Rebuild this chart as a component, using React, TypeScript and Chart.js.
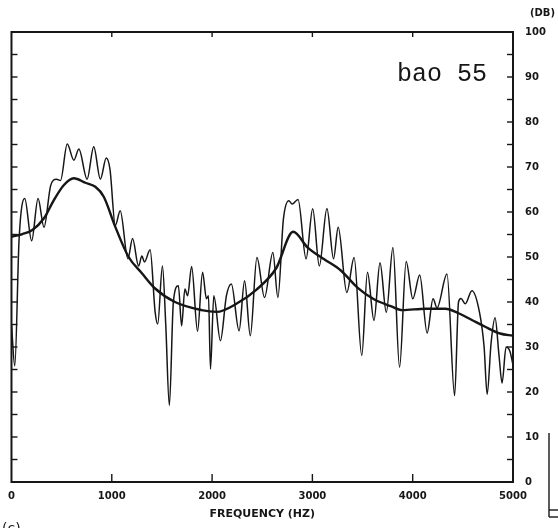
import React, { useEffect, useRef } from "react";
import { Chart, registerables } from "chart.js";

Chart.register(...registerables);

// Detailed spectrum (Hz, dB)
const freqDetail = [
  0, 33, 76, 132, 201, 265, 324, 390, 449, 489, 556, 622, 672, 754, 820, 886, 945, 982,
  1035, 1084, 1161, 1207, 1267, 1300, 1326, 1382, 1432, 1458, 1505, 1538, 1574, 1614, 1664,
  1696, 1729, 1756, 1796, 1855, 1905, 1944, 1964, 1984, 2017, 2083, 2143, 2192, 2269, 2324,
  2381, 2447, 2523, 2606, 2656, 2711, 2765, 2798, 2857, 2937, 3003, 3069, 3145, 3211, 3257,
  3343, 3416, 3492, 3549, 3614, 3674, 3737, 3803, 3869, 3935, 4001, 4070, 4144, 4203, 4243,
  4342, 4418, 4457, 4481, 4524, 4590, 4666, 4712, 4742, 4782, 4821, 4861, 4891, 4931, 4970, 5000,
];
const dbDetail = [
  35, 25.8, 54, 63, 53.6, 63, 56.6, 65.8, 67.3, 67, 75.1, 71.5, 74, 67.3, 74.5, 67.3, 72, 69.5,
  57, 60.3, 49.6, 54.1, 48, 50.2, 48.9, 51.6, 37.8, 35.1, 48, 35, 17, 40, 43.6,
  34.7, 42.9, 41.4, 47.9, 33.5, 46.6, 40.7, 41.4, 25.1, 41.4, 31.4, 41.4, 44, 33.6, 44.7,
  32.5, 49.9, 41, 51, 41, 58.4, 62.5, 61.8, 62.8, 49.6, 60.7, 48, 60.8, 49.6, 56.6,
  42.1, 49.9, 28.1, 46.6, 35.9, 48.7, 37.7, 52.1, 25.5, 49, 40.7, 46, 33.1, 40.7, 38.7,
  46.2, 19.2, 40, 40.8, 39.6, 42.5, 37.7, 30, 19.5, 31, 36.5, 28, 22, 30, 29, 26,
];

// Smoothed envelope (Hz, dB)
const freqEnv = [
  0, 109, 208, 324, 424, 523, 622, 737, 836, 920, 1035, 1168, 1300, 1432, 1630, 1895, 2044,
  2242, 2440, 2639, 2808, 2953, 3118, 3284, 3449, 3614, 3780, 3896, 4127, 4325, 4457, 4590,
  4722, 4871, 5000,
];
const dbEnv = [
  54.5, 55.1, 56, 58.6, 62.7, 66, 67.5, 66.5, 65.6, 63.4, 56.7, 50, 46.4, 43, 40, 38.2, 37.8,
  39.6, 42.7, 47.5, 55.6, 52.1, 49.5, 47, 43.2, 40.6, 39.1, 38.2, 38.5, 38.5, 37.5, 36,
  34.5, 33, 32.5,
];

const xTicks = [0, 1000, 2000, 3000, 4000, 5000];
const yTicks = [0, 10, 20, 30, 40, 50, 60, 70, 80, 90, 100];
const label = "bao 55";
const xTitle = "FREQUENCY (HZ)";
const yUnit = "(DB)";

const INK = "#161616";

const framePlugin = {
  id: "framePlugin",
  afterDatasetsDraw(chart: any) {
    const { ctx, chartArea: a, scales } = chart;
    const x = scales.x;
    const y = scales.y;
    ctx.save();
    ctx.strokeStyle = INK;
    ctx.lineWidth = 2;
    ctx.strokeRect(a.left, a.top, a.right - a.left, a.bottom - a.top);
    ctx.lineWidth = 1.4;
    const seg = (x1: number, y1: number, x2: number, y2: number) => {
      ctx.beginPath();
      ctx.moveTo(x1, y1);
      ctx.lineTo(x2, y2);
      ctx.stroke();
    };
    for (let v = 5; v < 100; v += 5) {
      const py = y.getPixelForValue(v);
      seg(a.left, py, a.left + 6, py);
      seg(a.right - 6, py, a.right, py);
    }
    for (let i = 1; i < xTicks.length - 1; i++) {
      const px = x.getPixelForValue(xTicks[i]);
      seg(px, a.top, px, a.top + 5);
      seg(px, a.bottom - 8, px, a.bottom);
    }
    ctx.fillStyle = INK;
    ctx.font = "25px 'Liberation Mono', 'DejaVu Sans Mono', monospace";
    ctx.textAlign = "right";
    ctx.textBaseline = "alphabetic";
    ctx.fillText(label, a.right - 26, 81);
    ctx.font = "bold 10px 'DejaVu Sans', sans-serif";
    ctx.textAlign = "left";
    ctx.fillText(yUnit, a.right + 17, 16);
    ctx.font = "14px 'DejaVu Sans', sans-serif";
    ctx.fillText("(c)", 2, 533);
    // neighbouring panel fragment at the lower right edge
    ctx.lineWidth = 1.4;
    seg(549, 433, 549, 517);
    seg(549, 517, 558, 517);
    seg(549, 510, 558, 510);
    ctx.restore();
  },
};

export default function App() {
  const ref = useRef<HTMLCanvasElement | null>(null);
  useEffect(() => {
    document.body.style.margin = "0";
    const canvas = ref.current;
    if (!canvas) return;
    const chart = new Chart(canvas, {
      type: "line",
      data: {
        datasets: [
          {
            data: freqDetail.map((f, i) => ({ x: f, y: dbDetail[i] })),
            borderColor: INK,
            borderWidth: 1.5,
            pointRadius: 0,
            cubicInterpolationMode: "monotone",
            fill: false,
          },
          {
            data: freqEnv.map((f, i) => ({ x: f, y: dbEnv[i] })),
            borderColor: INK,
            borderWidth: 2.4,
            pointRadius: 0,
            cubicInterpolationMode: "monotone",
            fill: false,
          },
        ],
      },
      options: {
        animation: false,
        responsive: false,
        maintainAspectRatio: false,
        layout: { padding: { left: 9, top: 32, right: 0, bottom: 0 } },
        plugins: { legend: { display: false }, tooltip: { enabled: false } },
        scales: {
          x: {
            type: "linear",
            position: "bottom",
            min: 0,
            max: 5000,
            afterBuildTicks: (s: any) => {
              s.ticks = xTicks.map((v) => ({ value: v }));
            },
            afterFit: (s: any) => {
              s.height = 46;
            },
            grid: { display: false, drawTicks: false },
            border: { display: false },
            ticks: {
              color: INK,
              padding: 8,
              maxRotation: 0,
              autoSkip: false,
              font: { family: "'DejaVu Sans', sans-serif", weight: "bold", size: 10 },
              callback: (v: any) => String(v),
            },
            title: {
              display: true,
              text: xTitle,
              color: INK,
              padding: { top: 2, bottom: 7 },
              font: { family: "'DejaVu Sans', sans-serif", weight: "bold", size: 11 },
            },
          },
          y: {
            type: "linear",
            position: "right",
            min: 0,
            max: 100,
            afterBuildTicks: (s: any) => {
              s.ticks = yTicks.map((v) => ({ value: v }));
            },
            afterFit: (s: any) => {
              s.width = 45;
            },
            grid: { display: false, drawTicks: false },
            border: { display: false },
            ticks: {
              color: INK,
              padding: 12,
              autoSkip: false,
              font: { family: "'DejaVu Sans', sans-serif", weight: "bold", size: 10 },
              callback: (v: any) => String(v),
            },
          },
        },
      },
      plugins: [framePlugin],
    } as any);
    return () => chart.destroy();
  }, []);
  return (
    <div style={{ position: "fixed", left: 0, top: 0, width: 558, height: 528, background: "#fff" }}>
      <canvas ref={ref} width={558} height={528} style={{ width: 558, height: 528, display: "block" }} />
    </div>
  );
}
